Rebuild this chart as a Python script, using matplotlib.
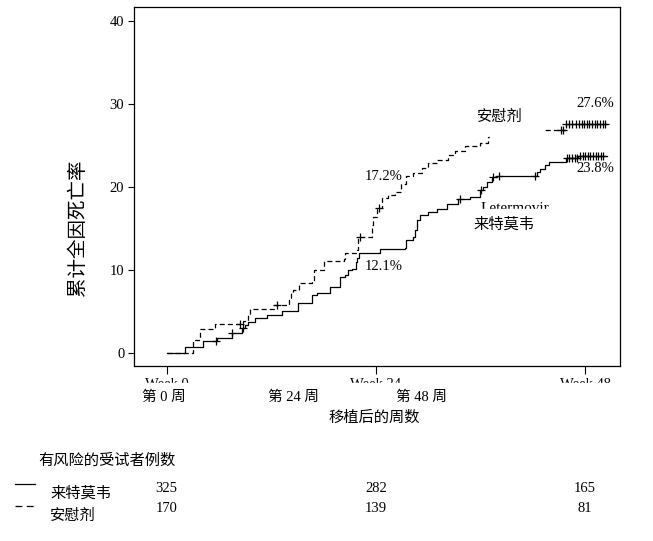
import numpy as np
import matplotlib
matplotlib.use("Agg")
import matplotlib.pyplot as plt
from matplotlib.patches import Rectangle
from matplotlib.lines import Line2D
from matplotlib.transforms import blended_transform_factory

plt.rcParams['font.family'] = ['Liberation Serif', 'Noto Sans CJK SC']

# Letermovir (solid) - step times (weeks) and cumulative %
let_t = [0, 2.1, 4.17, 5.77, 7.46, 8.6, 8.98, 9.36, 10.13, 11.47, 13.2, 15.07, 16.64,
         17.2, 18.74, 19.9, 20.46, 20.8, 21.2, 21.67, 21.84, 22.07, 24.5, 27.35, 27.5,
         28.26, 28.5, 28.7, 29.07, 29.98, 30.98, 32.1, 33.46, 34.8, 35.95, 36.3, 36.7,
         37.3, 37.87, 42.46, 42.84, 43.4, 43.8, 45.8, 47.2, 50.5]
let_y = [0, 0.8, 1.5, 1.8, 2.4, 3.0, 3.4, 3.8, 4.2, 4.6, 5.1, 6.1, 7.0,
         7.3, 8.0, 9.2, 9.4, 10.0, 10.2, 11.0, 11.5, 12.1, 12.5, 12.7, 13.6,
         14.0, 14.8, 16.0, 16.6, 17.0, 17.4, 18.0, 18.6, 18.85, 19.6, 20.0, 20.6,
         21.2, 21.35, 21.85, 22.15, 22.65, 23.05, 23.45, 23.8, 23.8]
let_cens = [5.6, 7.5, 8.8, 33.6, 36.1, 37.4, 38.1, 42.2,
            45.9, 46.2, 46.5, 46.8, 47.1, 47.4, 47.7, 48.0, 48.3, 48.6, 48.9,
            49.2, 49.5, 49.8, 50.1]

# Placebo (dashed)
pla_t = [0, 3.0, 3.8, 5.5, 8.8, 9.36, 9.56, 12.3, 14.0, 14.3, 14.5, 15.2, 16.65,
         16.85, 18.0, 20.3, 20.46, 21.8, 22.0, 23.5, 23.7, 24.1, 24.7, 25.4, 26.2,
         26.9, 27.5, 28.3, 29.25, 30.0, 31.0, 32.3, 33.1, 34.2, 35.95, 36.9, 40.0,
         42.0, 45.8, 50.5]
pla_y = [0, 1.6, 2.9, 3.5, 3.9, 4.6, 5.3, 5.8, 6.6, 7.2, 7.6, 8.4, 8.7,
         10.0, 11.1, 11.3, 12.1, 12.4, 14.0, 15.4, 16.4, 17.45, 18.65, 19.05, 19.45,
         20.4, 21.3, 21.7, 22.3, 22.9, 23.3, 23.9, 24.4, 24.95, 25.35, 26.0, 26.5,
         26.9, 27.6, 27.6]
pla_cens = [8.4, 12.6, 22.2, 24.3,
            45.2, 45.5, 45.8, 46.1, 46.5, 46.9, 47.3, 47.6, 47.9, 48.2, 48.5,
            48.8, 49.1, 49.4, 49.7, 50.0, 50.3]

weeks = [0, 24, 48]
week_labels = ['Week 0', 'Week 24', 'Week 48']
week_labels_cn = ['第 0 周', '第 24 周', '第 48 周']
risk_let = [325, 282, 165]
risk_pla = [170, 139, 81]


def at(t, y, c):
    idx = np.searchsorted(t, c, side='right') - 1
    return np.array(y)[idx]


W, H = 653, 541
fig = plt.figure(figsize=(W / 100, H / 100), dpi=100)
ax = fig.add_axes([134 / W, 1 - 366 / H, (620 - 134) / W, (366 - 7) / H])

ax.step(let_t, let_y, where='post', color='black', lw=0.9)
ax.step(pla_t, pla_y, where='post', color='black', lw=0.9, linestyle=(0, (4, 2.5)))
ax.plot(let_cens, at(let_t, let_y, let_cens), '+', color='black', ms=6, mew=0.9)
ax.plot(pla_cens, at(pla_t, pla_y, pla_cens), '+', color='black', ms=6, mew=0.9)

ax.set_xlim(-3.75, 52.0)
ax.set_ylim(-1.53, 41.67)
ax.set_xticks(weeks, week_labels)
ax.set_yticks([0, 10, 20, 30, 40])
ax.tick_params(axis='x', length=6, width=0.8, pad=3, labelsize=10.5)
ax.tick_params(axis='y', length=4, width=0.8, pad=3, labelsize=10.5)
for s in ax.spines.values():
    s.set_linewidth(0.9)

# white boxes of the translated overlay
ax.add_patch(Rectangle((37.1, 25.6), 6.1, 1.9, color='white', zorder=3))
ax.text(39.97, 18.2, 'Letermovir', ha='center', va='top', fontsize=11, zorder=2)
ax.add_patch(Rectangle((34.8, 13.4), 10.5, 4.0, color='white', zorder=3))

ax.text(38.24, 28.44, '安慰剂', ha='center', va='center', fontsize=11, zorder=4)
ax.text(38.7, 15.44, '来特莫韦', ha='center', va='center', fontsize=11, zorder=4)
ax.text(49.15, 30.0, '27.6%', ha='center', va='center', fontsize=10.5, zorder=4)
ax.text(49.15, 22.18, '23.8%', ha='center', va='center', fontsize=10.5, zorder=4)
ax.text(24.93, 21.25, '17.2%', ha='center', va='center', fontsize=10.5, zorder=4)
ax.text(24.93, 10.4, '12.1%', ha='center', va='center', fontsize=10.5, zorder=4)

# cut the english tick labels
fig.add_artist(Rectangle((120 / W, 1 - 394 / H), 530 / W, 11 / H,
                         transform=fig.transFigure, color='white', zorder=2))

for x, lab in zip([164, 294, 421], week_labels_cn):
    fig.text(x / W, 1 - 397 / H, lab, ha='center', va='center', fontsize=10.5)
fig.text(374 / W, 1 - 418 / H, '移植后的周数', ha='center', va='center', fontsize=11)
fig.text(78 / W, 1 - 228 / H, '累计全因死亡率', ha='center', va='center',
         rotation=90, fontsize=14)

# number at risk table
fig.text(38 / W, 1 - 461 / H, '有风险的受试者例数', ha='left', va='center', fontsize=11)
fig.add_artist(Line2D([15 / W, 35 / W], [1 - 484 / H] * 2, transform=fig.transFigure,
                      color='black', lw=0.9, zorder=3))
fig.add_artist(Line2D([15 / W, 37 / W], [1 - 506 / H] * 2, transform=fig.transFigure,
                      color='black', lw=0.9, linestyle=(0, (5.5, 3.5)), zorder=3))
fig.text(50 / W, 1 - 494 / H, '来特莫韦', ha='left', va='center', fontsize=11)
fig.text(50 / W, 1 - 516 / H, '安慰剂', ha='left', va='center', fontsize=11)

tr = blended_transform_factory(ax.transData, fig.transFigure)
for w, a, b in zip(weeks, risk_let, risk_pla):
    fig.text(w, 1 - 488 / H, str(a), ha='center', va='center', fontsize=10.5, transform=tr)
    fig.text(w, 1 - 509 / H, str(b), ha='center', va='center', fontsize=10.5, transform=tr)

fig.savefig('out.png', dpi=100)
